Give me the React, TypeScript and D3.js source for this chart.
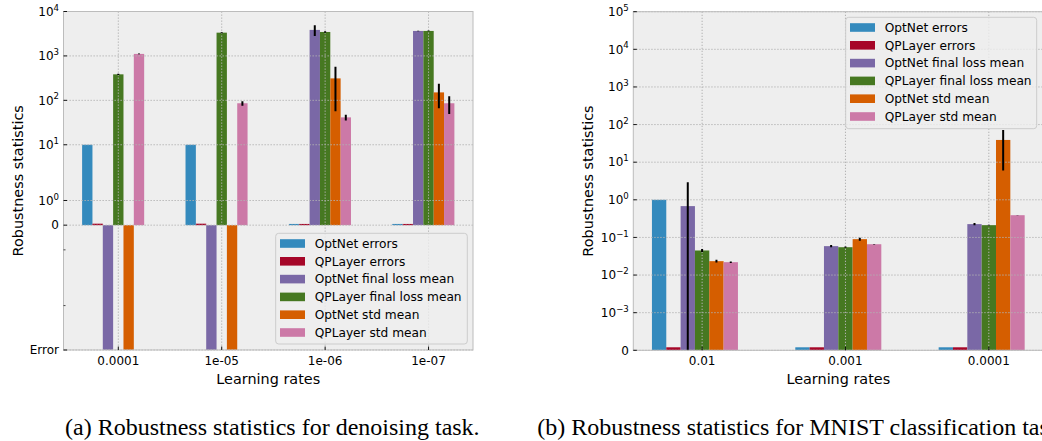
import React from 'react';
import * as d3 from 'd3';

// ---------- shared ----------
const seriesNames = [
  'OptNet errors',
  'QPLayer errors',
  'OptNet final loss mean',
  'QPLayer final loss mean',
  'OptNet std mean',
  'QPLayer std mean',
];
const seriesColors = ['#348ABD', '#A60628', '#7A68A6', '#467821', '#D55E00', '#CC79A7'];

// ---------- (a) denoising ----------
const denoiseRates = ['0.0001', '1e-05', '1e-06', '1e-07'];
const ERROR_VALUE = -100; // bars that ended in error are drawn down to the "Error" tick
const denoiseOptNetErrors = [10, 10, 0.05, 0.05];
const denoiseQPLayerErrors = [0.06, 0.06, 0.05, 0.05];
const denoiseOptNetLoss = [ERROR_VALUE, ERROR_VALUE, 3850, 3650];
const denoiseQPLayerLoss = [385, 3340, 3460, 3650];
const denoiseOptNetStd = [ERROR_VALUE, ERROR_VALUE, 312, 151];
const denoiseQPLayerStd = [1110, 86, 41.4, 86];
const denoiseOptNetLossErr = [0, 0, 1050, 60];
const denoiseQPLayerLossErr = [12, 90, 120, 80];
const denoiseOptNetStdErr = [0, 0, 255, 85];
const denoiseQPLayerStdErr = [20, 10, 6, 37];
const denoiseYTicks = [-100, 0, 1, 10, 100, 1000, 10000];
const denoiseYTickLabels = ['Error', '0', '10^0', '10^1', '10^2', '10^3', '10^4'];
const denoiseYMinorTicks = [-1, -10];

// ---------- (b) MNIST ----------
const mnistRates = ['0.01', '0.001', '0.0001'];
const mnistOptNetErrors = [1.0, 8e-5, 8e-5];
const mnistQPLayerErrors = [8e-5, 8e-5, 8e-5];
const mnistOptNetLoss = [0.68, 0.0587, 0.226];
const mnistQPLayerLoss = [0.045, 0.055, 0.212];
const mnistOptNetStd = [0.0234, 0.09, 39];
const mnistQPLayerStd = [0.022, 0.066, 0.39];
const mnistOptNetLossErr = [2.24, 0.004, 0.015];
const mnistQPLayerLossErr = [0.004, 0.002, 0.005];
const mnistOptNetStdErr = [0.002, 0.008, 33];
const mnistQPLayerStdErr = [0.001, 0.001, 0.003];
const mnistYTicks = [0, 1e-3, 1e-2, 1e-1, 1, 10, 100, 1e3, 1e4, 1e5];
const mnistYTickLabels = ['0', '10^\u22123', '10^\u22122', '10^\u22121', '10^0', '10^1', '10^2', '10^3', '10^4', '10^5'];

const captionA = '(a) Robustness statistics for denoising task.';
const captionB = '(b) Robustness statistics for MNIST classification task.';

const FONT = 'DejaVu Sans, Verdana, sans-serif';

function makeSymlog(lt: number, linDecades: number) {
  return (v: number) => {
    const a = Math.abs(v);
    if (a <= lt) return (v / lt) * linDecades;
    return Math.sign(v) * (linDecades + Math.log10(a / lt));
  };
}

type PanelProps = {
  id: string;
  x0: number;
  x1: number;
  yTop: number;
  yBot: number;
  categories: string[];
  values: number[][];
  errors: (number[] | null)[];
  transform: (v: number) => number;
  yMin: number;
  yMax: number;
  yTicks: number[];
  yTickLabels: string[];
  yMinorTicks: number[];
  yLabelX: number;
  legend: { x: number; y: number; w: number; h: number };
};

function TickLabel({ x, y, label }: { x: number; y: number; label: string }) {
  const parts = label.split('^');
  return (
    <text x={x} y={y + 4.3} textAnchor="end" fontSize={12} fontFamily={FONT} fill="#000">
      {parts[0]}
      {parts.length > 1 && (
        <tspan fontSize={8.6} dy={-5.2}>
          {parts[1]}
        </tspan>
      )}
    </text>
  );
}

function Panel(p: PanelProps) {
  const n = p.categories.length;
  const w = 0.1;
  const span = n - 0.4;
  const x = d3
    .scaleLinear()
    .domain([-0.35 - 0.05 * span, n - 0.75 + 0.05 * span])
    .range([p.x0, p.x1]);
  const ys = d3
    .scaleLinear()
    .domain([p.transform(p.yMin), p.transform(p.yMax)])
    .range([p.yBot, p.yTop]);
  const y = (v: number) => ys(p.transform(v));
  const bw = x(w) - x(0);
  const y0 = y(0);
  const clipId = 'clip-' + p.id;
  const dots = '1.3,1.7';

  return (
    <g>
      <defs>
        <clipPath id={clipId}>
          <rect x={p.x0} y={p.yTop} width={p.x1 - p.x0} height={p.yBot - p.yTop} />
        </clipPath>
      </defs>
      <rect x={p.x0} y={p.yTop} width={p.x1 - p.x0} height={p.yBot - p.yTop} fill="#eeeeee" />
      {/* bars */}
      <g clipPath={`url(#${clipId})`}>
        {p.values.map((vals, j) =>
          vals.map((v, i) => {
            const cx = x(i + (j - 3) * w);
            const yv = y(v);
            return (
              <rect
                key={`b${j}-${i}`}
                x={cx - bw / 2}
                y={Math.min(yv, y0)}
                width={bw}
                height={Math.abs(y0 - yv)}
                fill={seriesColors[j]}
              />
            );
          })
        )}
      </g>
      {/* grid (drawn above bars, like matplotlib's default) */}
      <g stroke="#b2b2b2" strokeWidth={1} strokeDasharray={dots}>
        {p.categories.map((c, i) => (
          <line key={'gx' + c} x1={x(i)} x2={x(i)} y1={p.yTop} y2={p.yBot} />
        ))}
        {p.yTicks.map((t) => (
          <line key={'gy' + t} x1={p.x0} x2={p.x1} y1={y(t)} y2={y(t)} />
        ))}
      </g>
      {/* error bars */}
      <g clipPath={`url(#${clipId})`} stroke="#000" strokeWidth={2}>
        {p.errors.map((errs, j) =>
          errs
            ? errs.map((e, i) => {
                if (!e) return null;
                const v = p.values[j][i];
                const cx = x(i + (j - 3) * w);
                return <line key={`e${j}-${i}`} x1={cx} x2={cx} y1={y(v - e)} y2={y(v + e)} />;
              })
            : null
        )}
      </g>
      {/* spines */}
      <rect
        x={p.x0}
        y={p.yTop}
        width={p.x1 - p.x0}
        height={p.yBot - p.yTop}
        fill="none"
        stroke="#bcbcbc"
        strokeWidth={1}
      />
      {/* ticks */}
      <g stroke="#000" strokeWidth={0.9}>
        {p.categories.map((c, i) => (
          <line key={'tx' + c} x1={x(i)} x2={x(i)} y1={p.yBot} y2={p.yBot - 3.5} />
        ))}
        {p.yTicks.map((t) => (
          <line key={'ty' + t} x1={p.x0} x2={p.x0 + 3.5} y1={y(t)} y2={y(t)} />
        ))}
        {p.yMinorTicks.map((t) => (
          <line key={'tm' + t} x1={p.x0} x2={p.x0 + 2} y1={y(t)} y2={y(t)} strokeWidth={0.7} />
        ))}
      </g>
      {/* tick labels */}
      {p.categories.map((c, i) => (
        <text key={'lx' + c} x={x(i)} y={p.yBot + 14.5} textAnchor="middle" fontSize={12} fontFamily={FONT} fill="#000">
          {c}
        </text>
      ))}
      {p.yTicks.map((t, k) => (
        <TickLabel key={'ly' + t} x={p.x0 - 4.5} y={y(t)} label={p.yTickLabels[k]} />
      ))}
      {/* axis labels */}
      <text
        x={(p.x0 + p.x1) / 2}
        y={p.yBot + 33.5}
        textAnchor="middle"
        fontSize={14.4}
        fontFamily={FONT}
        fill="#000"
      >
        Learning rates
      </text>
      <text
        transform={`translate(${p.yLabelX},${(p.yTop + p.yBot) / 2}) rotate(-90)`}
        textAnchor="middle"
        fontSize={14.4}
        fontFamily={FONT}
        fill="#000"
      >
        Robustness statistics
      </text>
      {/* legend */}
      <g>
        <rect
          x={p.legend.x}
          y={p.legend.y}
          width={p.legend.w}
          height={p.legend.h}
          rx={3}
          fill="#eeeeee"
          fillOpacity={0.8}
          stroke="#cccccc"
          strokeWidth={1}
        />
        {seriesNames.map((name, j) => {
          const cy = p.legend.y + 10.2 + j * 17.8;
          return (
            <g key={'lg' + name}>
              <rect x={p.legend.x + 4.3} y={cy - 4.3} width={25} height={8.6} fill={seriesColors[j]} />
              <text x={p.legend.x + 39} y={cy + 4.3} fontSize={12.2} fontFamily={FONT} fill="#000">
                {name}
              </text>
            </g>
          );
        })}
      </g>
    </g>
  );
}

export default function App() {
  const denoiseValues = [
    denoiseOptNetErrors,
    denoiseQPLayerErrors,
    denoiseOptNetLoss,
    denoiseQPLayerLoss,
    denoiseOptNetStd,
    denoiseQPLayerStd,
  ];
  const denoiseErrors = [null, null, denoiseOptNetLossErr, denoiseQPLayerLossErr, denoiseOptNetStdErr, denoiseQPLayerStdErr];
  const mnistValues = [
    mnistOptNetErrors,
    mnistQPLayerErrors,
    mnistOptNetLoss,
    mnistQPLayerLoss,
    mnistOptNetStd,
    mnistQPLayerStd,
  ];
  const mnistErrors = [null, null, mnistOptNetLossErr, mnistQPLayerLossErr, mnistOptNetStdErr, mnistQPLayerStdErr];

  return (
    <svg
      width={1042}
      height={441}
      viewBox="0 0 1042 441"
      style={{ position: 'absolute', left: 0, top: 0, background: '#fff' }}
    >
      <rect x={0} y={0} width={1042} height={441} fill="#fff" />
      <Panel
        id="a"
        x0={63.5}
        x1={473}
        yTop={11.5}
        yBot={350}
        categories={denoiseRates}
        values={denoiseValues}
        errors={denoiseErrors}
        transform={makeSymlog(2, 1 / 0.9)}
        yMin={-100}
        yMax={10000}
        yTicks={denoiseYTicks}
        yTickLabels={denoiseYTickLabels}
        yMinorTicks={denoiseYMinorTicks}
        yLabelX={22.5}
        legend={{ x: 275.7, y: 233.3, w: 191.6, h: 110.7 }}
      />
      <Panel
        id="b"
        x0={633.3}
        x1={1043.3}
        yTop={11.7}
        yBot={350.3}
        categories={mnistRates}
        values={mnistValues}
        errors={mnistErrors}
        transform={makeSymlog(1e-3, 1)}
        yMin={0}
        yMax={1e5}
        yTicks={mnistYTicks}
        yTickLabels={mnistYTickLabels}
        yMinorTicks={[]}
        yLabelX={593}
        legend={{ x: 845.7, y: 17.3, w: 191, h: 111.4 }}
      />
      <text x={65} y={435} fontSize={24} fontFamily="Liberation Serif, Times New Roman, serif" fill="#000">
        {captionA}
      </text>
      <text x={537.3} y={435} fontSize={24} fontFamily="Liberation Serif, Times New Roman, serif" fill="#000">
        {captionB}
      </text>
    </svg>
  );
}
